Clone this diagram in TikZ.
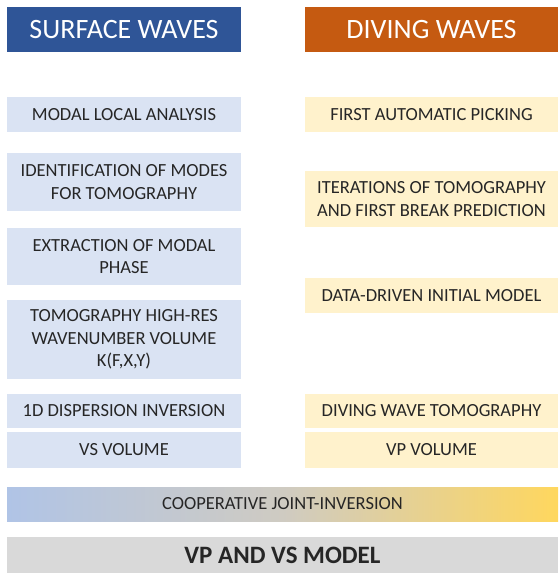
\documentclass[tikz,border=0pt]{standalone}
\usepackage{fontspec}
\setmainfont{Carlito}
\usetikzlibrary{calc}

\definecolor{surfblue}{HTML}{2F5597}
\definecolor{diveorange}{HTML}{C55A11}
\definecolor{surflight}{HTML}{DAE3F3}
\definecolor{divelight}{HTML}{FFF2CC}
\definecolor{coopblue}{HTML}{B0C4E6}
\definecolor{coopmid}{HTML}{CFCBC2}
\definecolor{coopyellow}{HTML}{FFD75E}
\definecolor{modelgray}{HTML}{D9D9D9}
\definecolor{textgray}{HTML}{262626}

\begin{document}
\begin{tikzpicture}[x = 1pt, y = -1pt,
    box/.style = {inner sep = 0pt, align = center, text = textgray,
        font = \fontsize{18.5}{22.5}\selectfont},
    sbox/.style = {box, fill = surflight, minimum width = 234pt},
    dbox/.style = {box, fill = divelight, minimum width = 253pt},
    head/.style = {inner sep = 0pt, text = white, minimum height = 45pt,
        font = \fontsize{28}{30}\selectfont}]
    \def\leftX{124}
    \def\rightX{431.5}
    \def\fullX{282.5}

    \useasboundingbox (0,0) rectangle (558,573);

    %headers
    \node[head, fill = surfblue, minimum width = 234pt] (surf) at (\leftX,29.5) {SURFACE WAVES};
    \node[head, fill = diveorange, minimum width = 253pt] (dive) at (\rightX,29.5) {DIVING WAVES};

    %surface waves column
    \node[sbox, minimum height = 35pt] (modal) at (\leftX,114.5) {MODAL LOCAL ANALYSIS};
    \node[sbox, minimum height = 58pt] (ident) at (\leftX,182) {IDENTIFICATION OF MODES\\FOR TOMOGRAPHY};
    \node[sbox, minimum height = 57pt] (extract) at (\leftX,256.5) {EXTRACTION OF MODAL\\PHASE};
    \node[sbox, minimum height = 79pt] (tomo) at (\leftX,339.5) {TOMOGRAPHY HIGH-RES\\WAVENUMBER VOLUME\\K(F,X,Y)};
    \node[sbox, minimum height = 34pt] (disp) at (\leftX,411) {1D DISPERSION INVERSION};
    \node[sbox, minimum height = 36pt] (vs) at (\leftX,450) {VS VOLUME};

    %diving waves column
    \node[dbox, minimum height = 35pt] (pick) at (\rightX,114.5) {FIRST AUTOMATIC PICKING};
    \node[dbox, minimum height = 56pt] (iter) at (\rightX,199) {ITERATIONS OF TOMOGRAPHY\\AND FIRST BREAK PREDICTION};
    \node[dbox, minimum height = 35pt] (init) at (\rightX,295.5) {DATA-DRIVEN INITIAL MODEL};
    \node[dbox, minimum height = 34pt] (dwt) at (\rightX,411) {DIVING WAVE TOMOGRAPHY};
    \node[dbox, minimum height = 36pt] (vp) at (\rightX,450) {VP VOLUME};

    %joint part
    \node[box, minimum width = 551pt, minimum height = 34pt,
        left color = coopblue, right color = coopyellow, middle color = coopmid] (coop) at (\fullX,504) {COOPERATIVE JOINT-INVERSION};
    \node[box, minimum width = 551pt, minimum height = 36pt, fill = modelgray,
        font = \fontsize{25}{28}\selectfont\bfseries] (model) at (\fullX,555) {VP AND VS MODEL};
\end{tikzpicture}
\end{document}
